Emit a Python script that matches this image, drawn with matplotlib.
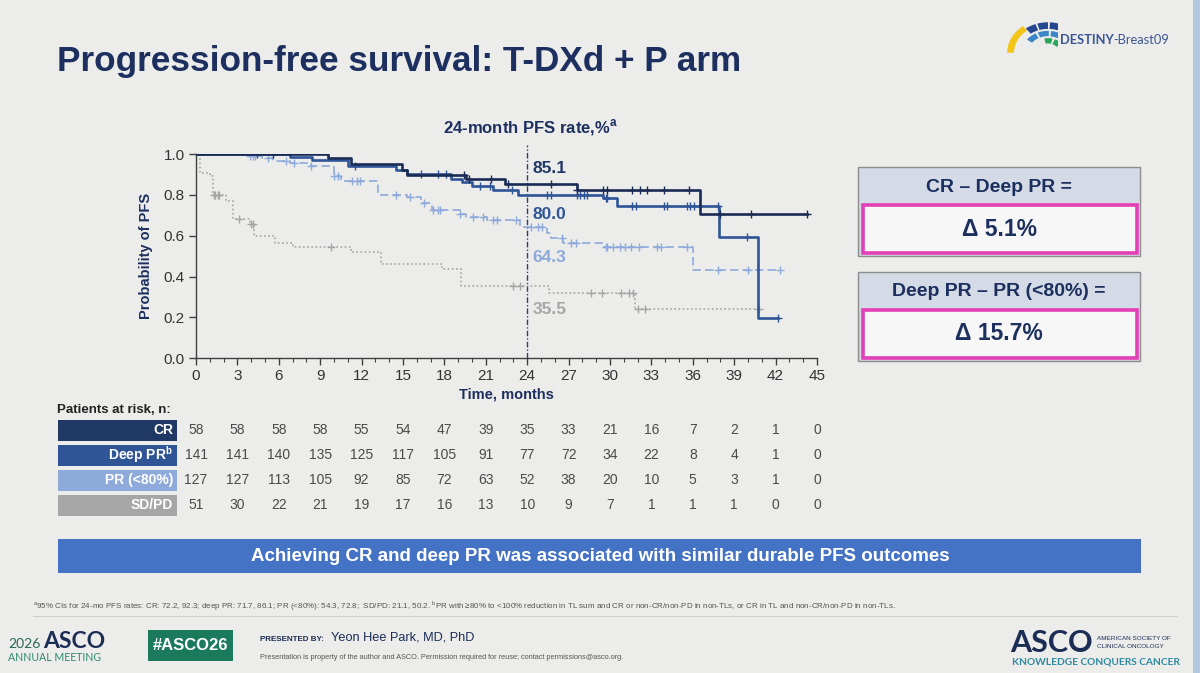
import matplotlib
matplotlib.use("Agg")
import matplotlib.pyplot as plt
from matplotlib.patches import Rectangle, Wedge
from matplotlib.transforms import blended_transform_factory
import numpy as np

plt.rcParams['font.family'] = ['Liberation Sans', 'DejaVu Sans']
plt.rcParams['mathtext.fontset'] = 'custom'
plt.rcParams['mathtext.rm'] = 'Liberation Sans'
plt.rcParams['mathtext.bf'] = 'Liberation Sans:bold'

# ---- data ----
groups = ['CR', 'Deep PR', 'PR (<80%)', 'SD/PD']

cr_t = [0, 9.6, 11.2, 14.9, 15.3, 19.6, 22.4, 27.6, 36.5, 44.3]
cr_s = [1.0, 0.979, 0.951, 0.92, 0.898, 0.876, 0.851, 0.824, 0.705, 0.705]
cr_c = [5.6, 19.4, 19.8, 21.4, 22.6, 25.7, 27.6, 29.5, 29.8, 31.6, 32.2, 32.7,
        33.9, 35.7, 38.0, 40.2, 44.3]

dp_t = [0, 6.8, 8.4, 11.0, 14.5, 15.3, 18.5, 19.3, 20.0, 21.5, 23.3, 29.5, 30.5,
        37.9, 40.7, 42.2]
dp_s = [1.0, 0.987, 0.97, 0.94, 0.92, 0.90, 0.88, 0.865, 0.845, 0.824, 0.80,
        0.783, 0.747, 0.595, 0.199, 0.199]
dp_c = [4.4, 11.5, 16.3, 17.5, 18.1, 20.6, 21.3, 22.9, 25.4, 25.7, 27.6, 27.8,
        28.1, 28.3, 29.7, 29.8, 31.6, 31.9, 33.9, 34.1, 35.6, 35.8, 36.1, 37.8,
        39.9, 42.2]

pr_t = [0, 3.9, 4.8, 5.6, 6.8, 8.3, 10.0, 10.5, 13.2, 15.3, 16.3, 17.1, 19.1,
        19.6, 21.1, 23.5, 25.4, 25.7, 26.6, 29.5, 36.0, 42.3]
pr_s = [1.0, 0.99, 0.98, 0.965, 0.955, 0.94, 0.89, 0.87, 0.80, 0.79, 0.76,
        0.725, 0.705, 0.69, 0.677, 0.643, 0.612, 0.588, 0.566, 0.546, 0.432, 0.432]
pr_c = [3.9, 4.1, 4.3, 5.2, 6.5, 7.1, 8.3, 10.0, 10.3, 11.3, 11.7, 11.9, 14.5,
        15.5, 16.5, 17.2, 17.5, 17.7, 19.1, 20.1, 20.8, 21.5, 21.8, 23.2, 24.3,
        24.8, 25.1, 26.5, 27.2, 27.5, 29.7, 29.8, 30.2, 30.7, 31.1, 31.5, 32.1,
        33.4, 33.7, 35.6, 37.8, 40.0, 42.3]

sd_t = [0, 0.3, 1.0, 1.2, 2.2, 2.7, 3.9, 4.2, 5.7, 7.0, 11.2, 13.4, 17.8, 19.2,
        25.6, 31.8, 40.8]
sd_s = [1.0, 0.905, 0.89, 0.80, 0.77, 0.68, 0.655, 0.597, 0.565, 0.547, 0.52,
        0.461, 0.435, 0.355, 0.321, 0.24, 0.24]
sd_c = [1.3, 1.4, 1.6, 1.7, 3.1, 4.0, 4.1, 9.8, 23.0, 23.5, 28.6, 29.4, 30.8,
        31.4, 31.7, 32.0, 32.5, 40.8]

rate_labels = ['85.1', '80.0', '64.3', '35.5']
rate_y = [0.93, 0.706, 0.492, 0.241]

risk_times = list(range(0, 46, 3))
cr_n = [58, 58, 58, 58, 55, 54, 47, 39, 35, 33, 21, 16, 7, 2, 1, 0]
dp_n = [141, 141, 140, 135, 125, 117, 105, 91, 77, 72, 34, 22, 8, 4, 1, 0]
pr_n = [127, 127, 113, 105, 92, 85, 72, 63, 52, 38, 20, 10, 5, 3, 1, 0]
sd_n = [51, 30, 22, 21, 19, 17, 16, 13, 10, 9, 7, 1, 1, 1, 0, 0]

# ---- styles ----
NAVY = '#1c2f5e'
colors = ['#1a2b56', '#2e5597', '#8eaadb', '#a6a6a6']
label_colors = ['#1f3864', '#2f5597', '#8eaadb', '#a6a6a6']
styles = ['-', '-', (0, (5, 2.5)), (0, (1, 1.5))]
widths = [1.9, 1.9, 1.2, 1.2]
BG = '#ececea'

W, H = 1200, 673
fig = plt.figure(figsize=(W / 100, H / 100), dpi=100, facecolor=BG)


def fx(x):
    return x / W


def fy(y):
    return 1 - y / H


def rect(x0, y0, x1, y1, **kw):
    r = Rectangle((fx(x0), fy(y1)), (x1 - x0) / W, (y1 - y0) / H,
                  transform=fig.transFigure, **kw)
    fig.add_artist(r)
    return r


def txt(x, y, s, **kw):
    return fig.text(fx(x), fy(y), s, **kw)


def surv_at(t, s, x):
    i = np.searchsorted(t, x, side='right') - 1
    return s[max(i, 0)]


# right-hand edge of the slide
rect(1193, 0, 1200, 673, facecolor='#b4c9de', edgecolor='none')

# title
txt(57, 61, 'Progression-free survival: T-DXd + P arm', fontsize=25.3,
    fontweight='bold', color=NAVY, va='center', ha='left')

# DESTINY logo
lax = fig.add_axes([fx(1004), fy(56), 54 / W, 38 / H])
lax.set_xlim(-1.1, 0.25)
lax.set_ylim(-0.1, 1.05)
lax.axis('off')
lax.add_patch(Wedge((0, 0), 1.02, 128, 180, width=0.17, facecolor='#f2c418',
                    edgecolor='none'))
for a0 in [50, 70, 90, 110]:
    lax.add_patch(Wedge((0, 0), 0.92, a0, a0 + 17, width=0.2,
                        facecolor='#24478f', edgecolor='none'))
for a0 in [28, 58, 88, 118]:
    lax.add_patch(Wedge((0, 0), 0.66, a0, a0 + 25, width=0.16,
                        facecolor='#3a86c8', edgecolor='none'))
for a0 in [5, 40, 75]:
    lax.add_patch(Wedge((0, 0), 0.44, a0, a0 + 27, width=0.16,
                        facecolor='#2aa65a', edgecolor='none'))
txt(1060, 44, 'DESTINY', fontsize=9.3, fontweight='bold', color='#3b5796',
    ha='left', va='baseline', family=['Lato', 'DejaVu Sans'])
txt(1113.5, 44, '-Breast09', fontsize=9.3, color='#3b5796', ha='left',
    va='baseline', family=['Lato', 'DejaVu Sans'])

# ---- KM plot ----
ax = fig.add_axes([fx(196), fy(358.3), 621 / W, 204.3 / H])
ax.set_facecolor(BG)
series = [(cr_t, cr_s, cr_c), (dp_t, dp_s, dp_c), (pr_t, pr_s, pr_c),
          (sd_t, sd_s, sd_c)]
for k in [3, 2, 1, 0]:
    t, s, c = series[k]
    ax.step(t, s, where='post', color=colors[k], lw=widths[k],
            linestyle=styles[k], zorder=3 + (3 - k))
    cy = [surv_at(t, s, x) for x in c]
    ax.plot(c, cy, linestyle='none', marker='+', ms=6, mew=1.0,
            color=colors[k], zorder=3 + (3 - k))

ax.plot([24, 24], [0, 1.045], color='#2a3f6e', lw=1.0,
        linestyle=(0, (4, 1.5, 1, 1.5)), clip_on=False, zorder=2)
for lab, yv, col in zip(rate_labels, rate_y, label_colors):
    ax.text(24.4, yv, lab, color=col, fontsize=12.5, fontweight='bold',
            ha='left', va='center')

ax.set_xlim(0, 45)
ax.set_ylim(0, 1.0)
ax.set_xticks(range(0, 46, 3))
ax.set_xticks(range(0, 46), minor=True)
ax.set_yticks([0, 0.2, 0.4, 0.6, 0.8, 1.0])
ax.set_yticklabels(['0.0', '0.2', '0.4', '0.6', '0.8', '1.0'])
for sp in ['top', 'right']:
    ax.spines[sp].set_visible(False)
for sp in ['left', 'bottom']:
    ax.spines[sp].set_color('#404040')
    ax.spines[sp].set_linewidth(1.0)
ax.tick_params(which='major', direction='out', length=5, width=1,
               color='#404040', labelsize=11, labelcolor='#333333', pad=3)
ax.tick_params(which='minor', direction='out', length=3, width=0.8,
               color='#404040')
ax.set_xlabel('Time, months', fontsize=10.5, fontweight='bold', color=NAVY,
              labelpad=3)
ax.set_ylabel('Probability of PFS', fontsize=10.5, fontweight='bold',
              color=NAVY, labelpad=8)

txt(531, 128, '24-month PFS rate,%$^\\mathbf{a}$', fontsize=12,
    fontweight='bold', color=NAVY, ha='center', va='center')

# ---- delta boxes ----
box_heads = ['CR \u2013 Deep PR =', 'Deep PR \u2013 PR (<80%) =']
box_vals = ['\u0394 5.1%', '\u0394 15.7%']
box_top = [167, 272]
for head, val, top in zip(box_heads, box_vals, box_top):
    rect(858, top, 1140, top + 89, facecolor='#d4dbe7', edgecolor='#8c8c8c',
         lw=1.0)
    rect(862.5, top + 38, 1137, top + 86, facecolor='#f7f7f7',
         edgecolor='#e33fb6', lw=2.6)
    txt(999, top + 20, head, fontsize=14, fontweight='bold', color=NAVY,
        ha='center', va='center')
    txt(999, top + 62, val, fontsize=16.5, fontweight='bold', color=NAVY,
        ha='center', va='center')

# ---- patients at risk ----
txt(57, 410, 'Patients at risk, n:', fontsize=9.5, fontweight='bold',
    color='#222222', ha='left', va='center')
row_names = ['CR', 'Deep PR$^\\mathbf{b}$', 'PR (<80%)', 'SD/PD']
row_y = [430, 455, 480, 505]
row_counts = [cr_n, dp_n, pr_n, sd_n]
risk_tr = blended_transform_factory(ax.transData, fig.transFigure)
for name, yv, col, counts in zip(row_names, row_y, label_colors, row_counts):
    rect(58, yv - 10.5, 177, yv + 10.5, facecolor=col, edgecolor='none')
    txt(173, yv, name, fontsize=10, fontweight='bold', color='white',
        ha='right', va='center')
    for tm, n in zip(risk_times, counts):
        ax.text(tm, fy(yv), str(n), transform=risk_tr, fontsize=10,
                color='#4a4a4a', ha='center', va='center', clip_on=False)

# ---- banner ----
rect(58, 539, 1141, 573, facecolor='#4472c4', edgecolor='none')
txt(600, 556.5,
    'Achieving CR and deep PR was associated with similar durable PFS outcomes',
    fontsize=13.5, fontweight='bold', color='white', ha='center', va='center')

# ---- footnote ----
txt(33, 606,
    '$^\\mathregular{a}$95% CIs for 24-mo PFS rates: CR: 72.2, 92.3; deep PR: 71.7, 86.1; '
    'PR (<80%): 54.3, 72.8;  SD/PD: 21.1, 50.2. $^\\mathregular{b}$PR with \u226580% to <100% '
    'reduction in TL sum and CR or non-CR/non-PD in non-TLs, or CR in TL and '
    'non-CR/non-PD in non-TLs.',
    fontsize=5.75, color='#555555', ha='left', va='center')
fig.add_artist(plt.Line2D([fx(33), fx(1177)], [fy(616), fy(616)],
                          transform=fig.transFigure, color='#cfcfcf', lw=0.8))

# ---- footer ----
txt(8, 648, '2026', fontsize=10, color='#2a6656', ha='left', va='baseline',
    family=['Lato', 'DejaVu Sans'])
txt(43, 648, 'ASCO', fontsize=16.5, fontweight='bold', color='#1c2d55',
    ha='left', va='baseline', family=['Lato', 'DejaVu Sans'])
txt(8, 661, 'ANNUAL MEETING', fontsize=7.6, color='#2e8a70', ha='left',
    va='baseline', family=['Lato', 'DejaVu Sans'])
rect(148, 630, 233, 661, facecolor='#1b7a5c', edgecolor='none')
txt(190.5, 646, '#ASCO26', fontsize=12, fontweight='bold', color='white',
    ha='center', va='center')
txt(260, 641, 'PRESENTED BY:', fontsize=5.8, fontweight='bold',
    color='#1c2d55', ha='left', va='baseline')
txt(331, 641, 'Yeon Hee Park, MD, PhD', fontsize=9.2, color='#1c2d55',
    ha='left', va='baseline')
txt(260, 659, 'Presentation is property of the author and ASCO. Permission '
    'required for reuse; contact permissions@asco.org.', fontsize=5.3,
    color='#555555', ha='left', va='baseline')

txt(1010, 652, 'ASCO', fontsize=22, fontweight='bold', color='#1c2d55',
    ha='left', va='baseline', family=['Lato', 'DejaVu Sans'])
txt(1097, 638, 'AMERICAN SOCIETY OF', fontsize=4.6, color='#1c2d55',
    ha='left', va='center')
txt(1097, 646, 'CLINICAL ONCOLOGY', fontsize=4.6, color='#1c2d55',
    ha='left', va='center')
txt(1012, 662, 'KNOWLEDGE CONQUERS CANCER', fontsize=7.3, fontweight='bold',
    color='#2e8aa0', ha='left', va='center', family=['Lato', 'DejaVu Sans'])

fig.savefig('out.png', dpi=100, facecolor=BG)
